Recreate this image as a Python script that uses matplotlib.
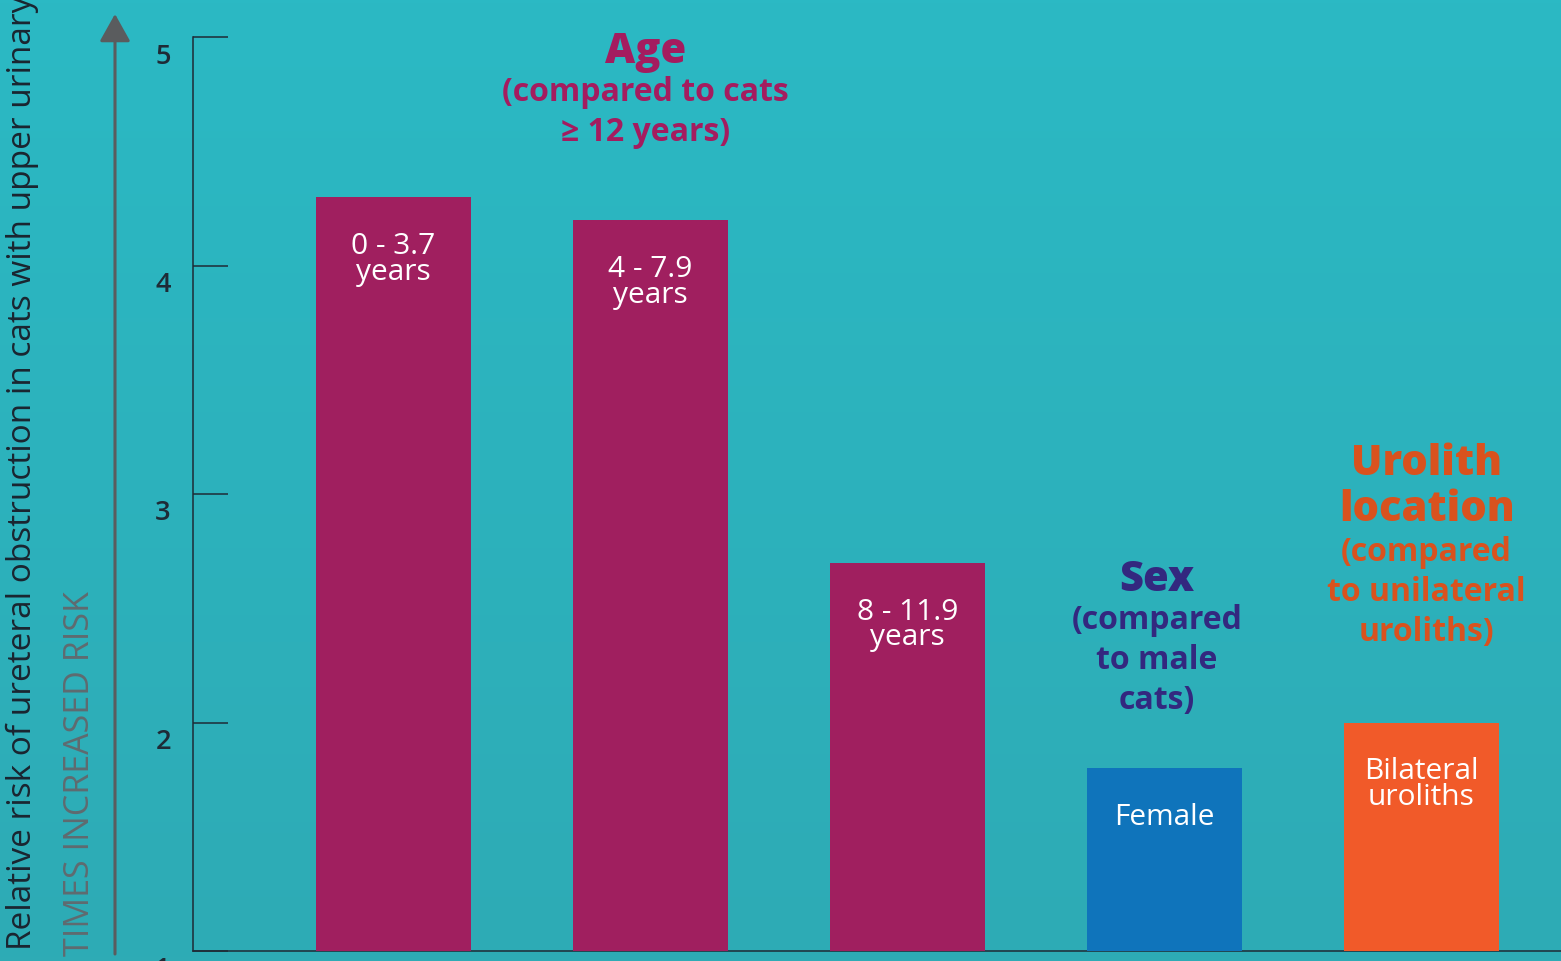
import numpy as np
import matplotlib
matplotlib.use("Agg")
import matplotlib.pyplot as plt
from matplotlib.transforms import ScaledTranslation

plt.rcParams['font.family'] = ['Open Sans', 'DejaVu Sans']

# data
bar_labels = ['0 - 3.7\nyears', '4 - 7.9\nyears', '8 - 11.9\nyears', 'Female', 'Bilateral\nuroliths']
risk = [4.3, 4.2, 2.7, 1.8, 2.0]
bar_colors = ['#a01f5f', '#a01f5f', '#a01f5f', '#0f74bb', '#f15a29']
yticks = [1, 2, 3, 4, 5]

# group headers: title, subtitle, x centre, title y, subtitle y, colour
groups = [
    ('Age', '(compared to cats\n≥ 12 years)', 0.98, 4.94, 4.675, '#a41c5f'),
    ('Sex', '(compared\nto male\ncats)', 2.97, 2.63, 2.275, '#33287f'),
    ('Urolith\nlocation', '(compared\nto unilateral\nuroliths)', 4.02, 3.035, 2.575, '#d9521e'),
]

fig = plt.figure(figsize=(15.61, 9.62), dpi=100)

# teal gradient background
bg = fig.add_axes([0, 0, 1, 1], zorder=-10)
top = np.array([0x2b, 0xb9, 0xc4]) / 255
bot = np.array([0x2e, 0xab, 0xb5]) / 255
t = np.linspace(0, 1, 256)[:, None]
grad = top[None, :] * (1 - t) + bot[None, :] * t
bg.imshow(grad[:, None, :], aspect='auto', extent=[0, 1, 0, 1])
bg.axis('off')

ax = fig.add_axes([193 / 1561, 10 / 962, 1368 / 1561, 914 / 962])
ax.patch.set_alpha(0)

x = np.arange(len(risk))
ax.bar(x, [r - 1 for r in risk], bottom=1, width=0.603, color=bar_colors, zorder=3)

for xi, r, lab in zip(x, risk, bar_labels):
    ax.annotate(lab, (xi, r), xytext=(0, -34), textcoords='offset pixels',
                ha='center', va='top', color='white', fontsize=21.5,
                linespacing=0.86, zorder=4)

for title, sub, gx, ty, sy, col in groups:
    ax.text(gx, ty, title, ha='center', va='center', color=col,
            fontsize=30, fontweight=800, linespacing=1.1)
    ax.text(gx, sy, sub, ha='center', va='center', color=col,
            fontsize=23, fontweight='bold', linespacing=1.28)

ax.set_xlim(-0.780, 4.543)
ax.set_ylim(1, 5)
ax.set_xticks([])
ax.set_yticks(yticks)
ax.set_yticklabels([str(v) for v in yticks])
ax.tick_params(axis='y', direction='in', length=25, width=1.1, color='#1e2b36',
               pad=16, labelsize=19.5, labelcolor='#1e2b36')
for lbl in ax.get_yticklabels():
    lbl.set_fontweight('semibold')
for s in ['top', 'right']:
    ax.spines[s].set_visible(False)
for s in ['left', 'bottom']:
    ax.spines[s].set_color('#1e2b36')
    ax.spines[s].set_linewidth(1.1)
for lbl in ax.get_yticklabels():
    lbl.set_transform(lbl.get_transform() + ScaledTranslation(0, -0.15, fig.dpi_scale_trans))

# axis titles and arrow
fig.text(22 / 1561, 12 / 962, 'Relative risk of ureteral obstruction in cats with upper urinary',
         rotation=90, ha='center', va='bottom', fontsize=24, color='#1a2530')
fig.text(80 / 1561, 6 / 962, 'TIMES INCREASED RISK', rotation=90, ha='center',
         va='bottom', fontsize=24.5, color='#5f6b70')
ax.annotate('', xy=(115 / 1561, 1 - 15 / 962), xytext=(115 / 1561, 1 - 955 / 962),
            xycoords='figure fraction', textcoords='figure fraction',
            arrowprops=dict(arrowstyle='-|>,head_length=17,head_width=9.5',
                            mutation_scale=1, color='#5a5c5e', lw=2.2,
                            shrinkA=0, shrinkB=0))

fig.savefig('out.png', dpi=100)
